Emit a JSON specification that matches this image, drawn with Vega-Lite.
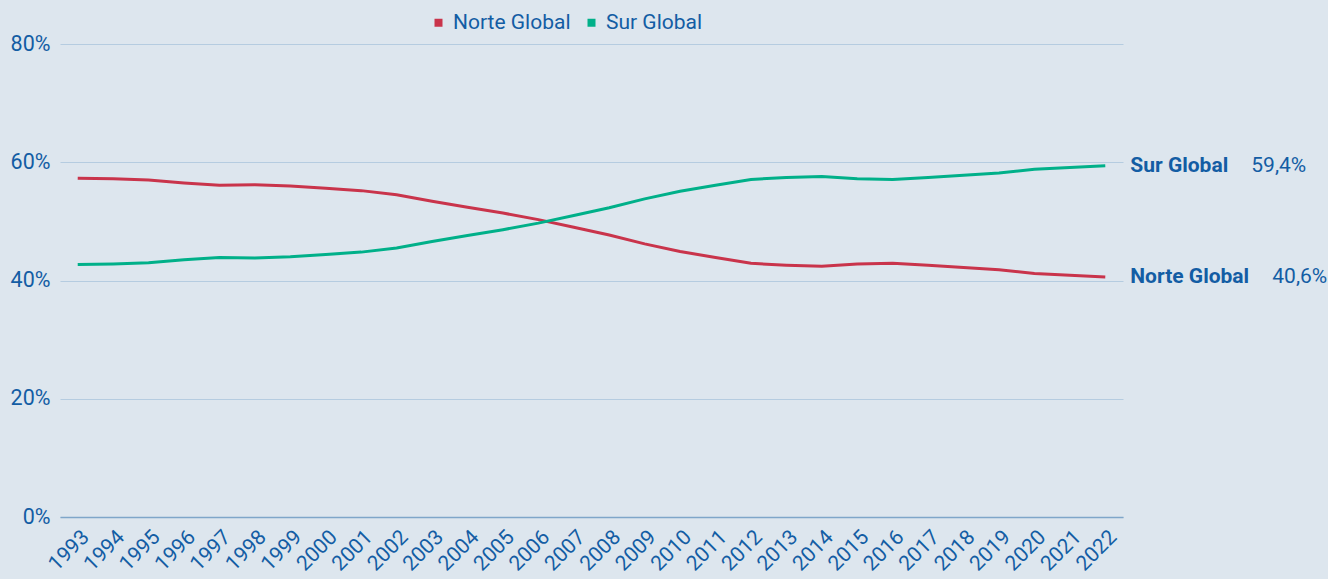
{
  "$schema": "https://vega.github.io/schema/vega-lite/v6.json",
  "autosize": "none",
  "width": 1063,
  "height": 473,
  "padding": {"left": 60, "top": 44, "right": 205, "bottom": 62},
  "background": "#dde6ee",
  "config": {
    "view": {"stroke": null},
    "font": "Roboto",
    "locale": {"number": {"decimal": ",", "thousands": ".", "grouping": [3], "currency": ["", " €"]}}
  },
  "data": {
    "values": [
      {"year": "1993", "serie": "Norte Global", "valor": 0.573},
      {"year": "1994", "serie": "Norte Global", "valor": 0.572},
      {"year": "1995", "serie": "Norte Global", "valor": 0.570},
      {"year": "1996", "serie": "Norte Global", "valor": 0.565},
      {"year": "1997", "serie": "Norte Global", "valor": 0.561},
      {"year": "1998", "serie": "Norte Global", "valor": 0.562},
      {"year": "1999", "serie": "Norte Global", "valor": 0.560},
      {"year": "2000", "serie": "Norte Global", "valor": 0.556},
      {"year": "2001", "serie": "Norte Global", "valor": 0.552},
      {"year": "2002", "serie": "Norte Global", "valor": 0.545},
      {"year": "2003", "serie": "Norte Global", "valor": 0.534},
      {"year": "2004", "serie": "Norte Global", "valor": 0.524},
      {"year": "2005", "serie": "Norte Global", "valor": 0.514},
      {"year": "2006", "serie": "Norte Global", "valor": 0.503},
      {"year": "2007", "serie": "Norte Global", "valor": 0.490},
      {"year": "2008", "serie": "Norte Global", "valor": 0.477},
      {"year": "2009", "serie": "Norte Global", "valor": 0.462},
      {"year": "2010", "serie": "Norte Global", "valor": 0.449},
      {"year": "2011", "serie": "Norte Global", "valor": 0.439},
      {"year": "2012", "serie": "Norte Global", "valor": 0.429},
      {"year": "2013", "serie": "Norte Global", "valor": 0.426},
      {"year": "2014", "serie": "Norte Global", "valor": 0.424},
      {"year": "2015", "serie": "Norte Global", "valor": 0.428},
      {"year": "2016", "serie": "Norte Global", "valor": 0.429},
      {"year": "2017", "serie": "Norte Global", "valor": 0.426},
      {"year": "2018", "serie": "Norte Global", "valor": 0.422},
      {"year": "2019", "serie": "Norte Global", "valor": 0.418},
      {"year": "2020", "serie": "Norte Global", "valor": 0.412},
      {"year": "2021", "serie": "Norte Global", "valor": 0.409},
      {"year": "2022", "serie": "Norte Global", "valor": 0.406},
      {"year": "1993", "serie": "Sur Global", "valor": 0.427},
      {"year": "1994", "serie": "Sur Global", "valor": 0.428},
      {"year": "1995", "serie": "Sur Global", "valor": 0.430},
      {"year": "1996", "serie": "Sur Global", "valor": 0.435},
      {"year": "1997", "serie": "Sur Global", "valor": 0.439},
      {"year": "1998", "serie": "Sur Global", "valor": 0.438},
      {"year": "1999", "serie": "Sur Global", "valor": 0.440},
      {"year": "2000", "serie": "Sur Global", "valor": 0.444},
      {"year": "2001", "serie": "Sur Global", "valor": 0.448},
      {"year": "2002", "serie": "Sur Global", "valor": 0.455},
      {"year": "2003", "serie": "Sur Global", "valor": 0.466},
      {"year": "2004", "serie": "Sur Global", "valor": 0.476},
      {"year": "2005", "serie": "Sur Global", "valor": 0.486},
      {"year": "2006", "serie": "Sur Global", "valor": 0.497},
      {"year": "2007", "serie": "Sur Global", "valor": 0.510},
      {"year": "2008", "serie": "Sur Global", "valor": 0.523},
      {"year": "2009", "serie": "Sur Global", "valor": 0.538},
      {"year": "2010", "serie": "Sur Global", "valor": 0.551},
      {"year": "2011", "serie": "Sur Global", "valor": 0.561},
      {"year": "2012", "serie": "Sur Global", "valor": 0.571},
      {"year": "2013", "serie": "Sur Global", "valor": 0.574},
      {"year": "2014", "serie": "Sur Global", "valor": 0.576},
      {"year": "2015", "serie": "Sur Global", "valor": 0.572},
      {"year": "2016", "serie": "Sur Global", "valor": 0.571},
      {"year": "2017", "serie": "Sur Global", "valor": 0.574},
      {"year": "2018", "serie": "Sur Global", "valor": 0.578},
      {"year": "2019", "serie": "Sur Global", "valor": 0.582},
      {"year": "2020", "serie": "Sur Global", "valor": 0.588},
      {"year": "2021", "serie": "Sur Global", "valor": 0.591},
      {"year": "2022", "serie": "Sur Global", "valor": 0.594}
    ]
  },
  "encoding": {
    "x": {
      "field": "year",
      "type": "ordinal",
      "scale": {"type": "point", "padding": 0.5},
      "axis": {
        "title": null,
        "labelAngle": -45,
        "labelFontSize": 21,
        "labelColor": "#135da4",
        "labelPadding": 9,
        "ticks": false,
        "domainColor": "#7fa6c9",
        "domainWidth": 1.5,
        "grid": false
      }
    },
    "y": {
      "field": "valor",
      "type": "quantitative",
      "scale": {"domain": [0, 0.8], "nice": false},
      "axis": {
        "title": null,
        "values": [0, 0.2, 0.4, 0.6, 0.8],
        "format": ".0%",
        "labelFontSize": 21.5,
        "labelColor": "#135da4",
        "labelPadding": 10,
        "ticks": false,
        "domain": false,
        "gridColor": "#b5cce0",
        "gridWidth": 1
      }
    }
  },
  "layer": [
    {
      "mark": {"type": "line", "strokeWidth": 3},
      "encoding": {
        "color": {
          "field": "serie",
          "type": "nominal",
          "scale": {"domain": ["Norte Global", "Sur Global"], "range": ["#c9344b", "#00b089"]},
          "legend": {
            "title": null,
            "orient": "none",
            "direction": "horizontal",
            "legendX": 368,
            "legendY": -32,
            "symbolType": "square",
            "symbolSize": 64,
            "labelFontSize": 21,
            "labelColor": "#135da4",
            "labelOffset": 4,
            "columnPadding": 10,
            "encode": {
              "symbols": {"update": {"fill": {"scale": "color", "field": "value"}, "strokeWidth": {"value": 0}, "fillOpacity": {"value": 1}}}
            }
          }
        }
      }
    },
    {
      "transform": [{"filter": "datum.year == '2022'"}],
      "mark": {"type": "text", "align": "left", "baseline": "middle", "dx": 25, "fontSize": 21, "fontWeight": "bold", "color": "#135da4"},
      "encoding": {"text": {"field": "serie"}}
    },
    {
      "transform": [{"filter": "datum.year == '2022' && datum.serie == 'Sur Global'"}],
      "mark": {"type": "text", "align": "left", "baseline": "middle", "dx": 146, "fontSize": 21, "color": "#135da4"},
      "encoding": {"text": {"field": "valor", "format": ".1%"}}
    },
    {
      "transform": [{"filter": "datum.year == '2022' && datum.serie == 'Norte Global'"}],
      "mark": {"type": "text", "align": "left", "baseline": "middle", "dx": 167, "fontSize": 21, "color": "#135da4"},
      "encoding": {"text": {"field": "valor", "format": ".1%"}}
    }
  ]
}
